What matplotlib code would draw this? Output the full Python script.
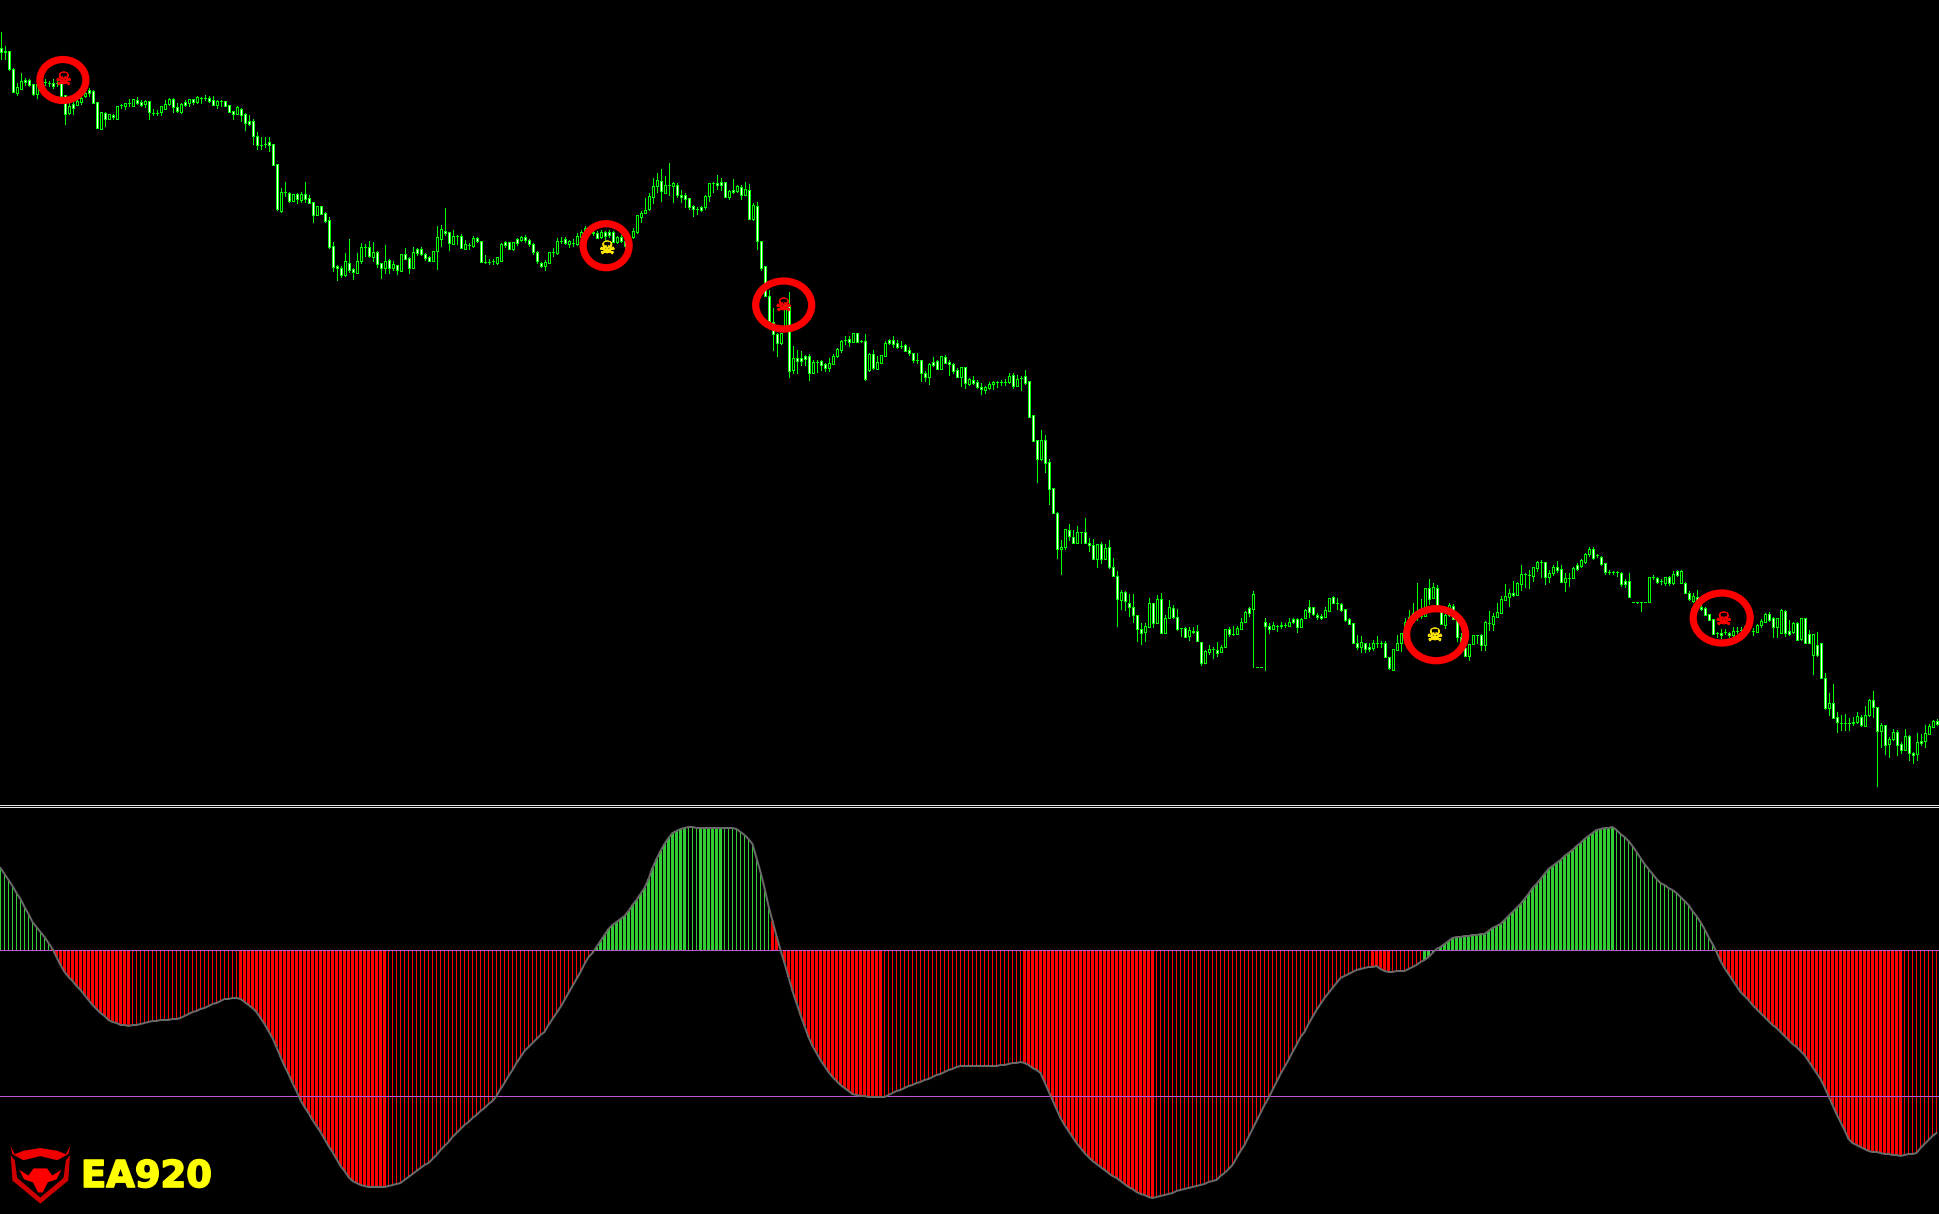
import matplotlib
matplotlib.use("Agg")
import matplotlib.pyplot as plt
from matplotlib.patches import Ellipse, Polygon
import matplotlib.patheffects as pe

opens = [752,749,749,731,707,711,720,720,716,706,
717,718,717,717,717,717,705,687,696,695,
698,704,710,709,698,671,687,681,685,681,
695,694,697,694,700,698,696,699,687,687,
688,691,696,701,693,688,698,697,701,698,
702,702,702,700,695,699,699,695,689,686,
691,686,679,679,664,655,656,658,656,636,
589,608,607,599,606,600,606,602,598,585,
594,587,580,554,534,532,525,537,531,527,
539,553,553,543,548,537,532,540,532,535,
529,546,542,532,551,551,546,543,539,549,
561,569,568,556,564,564,551,555,554,562,
559,538,538,539,537,539,558,558,551,561,
560,563,560,556,548,537,534,537,548,547,
559,561,556,557,556,563,568,570,568,567,
563,568,568,568,558,563,559,555,563,568,
583,587,591,603,614,619,607,615,614,615,
605,605,602,594,591,593,593,604,617,617,
618,618,603,610,609,613,605,610,581,594,
559,534,504,478,466,457,473,494,430,442,
442,444,444,427,438,439,436,432,436,444,
450,460,461,458,467,459,459,430,446,431,
437,444,460,460,457,454,455,450,447,440,
440,427,423,438,439,431,443,438,436,430,
423,433,416,420,418,413,410,412,416,418,
418,418,418,425,414,422,424,419,385,360,
341,360,338,312,287,251,253,270,263,257,
268,268,257,255,241,256,241,253,233,224,
200,208,197,193,185,171,168,173,197,177,
201,167,182,192,183,172,172,164,169,169,
158,137,148,151,150,148,153,171,166,166,
171,178,192,191,133,133,178,174,171,174,
175,175,174,181,181,173,182,193,193,185,
184,183,189,203,197,196,191,181,177,157,
153,157,153,152,157,157,157,143,130,150,
157,165,177,183,184,184,184,212,202,212,
188,175,185,194,180,163,152,144,156,165,
165,155,177,176,183,187,200,203,207,205,
216,226,225,224,232,238,238,223,227,233,
231,218,222,222,235,234,238,246,251,245,
243,237,228,228,228,227,219,219,198,198,
198,198,198,223,222,219,217,223,217,229,
217,217,207,199,203,193,192,186,181,167,
167,168,167,165,169,170,169,174,169,168,
175,178,186,182,173,167,189,169,168,177,
161,182,166,145,155,157,122,92,97,83,
77,77,77,78,78,83,74,85,100,93,
69,75,56,61,68,56,50,64,47,46,
59,59,66,73,79]

closes = [748,748,731,708,713,719,718,715,706,716,
718,718,717,714,717,704,686,694,692,699,
702,707,707,697,672,688,681,686,683,694,
695,697,697,701,697,695,699,688,687,687,
694,696,701,693,689,696,695,701,698,703,
702,702,699,695,699,699,694,688,686,693,
685,677,676,664,655,655,656,655,635,591,
608,608,599,606,601,606,601,597,585,594,
586,579,553,533,532,525,539,530,528,539,
553,553,544,548,536,532,539,532,536,530,
546,541,532,548,547,546,542,539,549,563,
571,567,557,564,564,552,556,555,562,559,
538,538,538,539,543,556,555,551,558,557,
563,560,556,548,539,534,538,548,548,559,
559,557,559,557,564,568,572,570,567,562,
568,564,565,558,563,559,554,563,569,585,
587,590,604,614,620,609,615,615,617,605,
603,601,593,591,591,590,604,617,617,615,
615,603,609,608,614,605,611,581,595,559,
532,504,479,466,457,467,495,429,442,439,
439,441,427,438,438,435,432,437,444,451,
459,460,458,467,458,459,421,446,432,438,
445,457,457,456,453,454,449,447,440,440,
427,423,436,435,431,444,437,436,429,423,
433,417,421,417,413,411,413,416,418,418,
418,418,424,414,421,422,417,383,359,341,
360,337,311,287,251,253,271,264,257,268,
268,257,255,241,256,241,252,233,224,201,
208,199,193,185,171,167,174,197,177,201,
167,182,193,183,171,172,163,170,168,159,
137,149,151,151,147,153,171,166,166,172,
178,188,187,206,133,133,174,171,175,174,
174,175,178,178,173,181,190,188,186,183,
182,190,202,197,197,190,180,176,157,153,
158,151,151,157,157,157,143,132,151,157,
167,178,183,187,187,184,212,201,213,195,
176,185,195,181,163,155,144,156,165,165,
155,178,177,184,188,201,204,207,205,217,
226,226,225,233,238,238,223,227,233,230,
218,222,222,232,231,240,246,251,242,245,
236,228,228,228,228,216,216,203,198,198,
198,198,223,223,218,219,223,217,226,225,
229,207,201,204,192,191,185,180,166,167,
165,168,165,169,169,170,174,174,169,175,
179,186,180,173,182,190,167,166,177,160,
182,157,157,166,145,122,92,97,82,78,
77,77,77,77,84,75,85,100,93,69,
75,55,61,68,55,50,64,47,45,58,
57,67,74,79,76]

highs = [768,754,749,732,717,727,722,721,716,717,
720,721,719,721,721,717,705,697,698,701,
704,712,712,710,698,688,688,686,686,694,
696,697,701,701,703,700,700,699,691,690,
694,700,702,702,697,697,700,701,701,704,
703,705,704,704,700,700,699,695,689,694,
692,687,685,681,668,663,663,663,656,636,
612,618,608,606,607,608,618,605,598,594,
594,588,583,558,535,534,547,561,532,547,
557,556,559,558,549,537,555,541,539,535,
546,552,543,553,552,553,547,544,549,574,
575,592,568,570,565,566,560,557,564,563,
559,545,541,541,543,557,559,558,558,562,
564,565,561,557,549,538,540,548,552,562,
563,563,560,561,567,570,574,572,570,569,
570,569,570,569,564,565,563,565,572,585,
589,602,607,622,627,631,624,637,618,617,
610,607,602,595,593,594,605,617,618,625,
622,618,610,621,615,615,618,616,597,598,
559,534,510,492,467,467,495,508,454,450,
449,445,446,440,440,440,437,442,446,452,
460,464,464,467,467,460,466,447,450,444,
445,459,461,464,460,459,456,453,447,447,
440,429,437,443,440,444,445,440,437,432,
433,433,422,424,420,417,414,418,419,419,
420,421,427,427,425,424,430,419,385,360,
370,365,341,312,288,260,271,276,270,274,
268,282,262,261,256,258,256,260,242,229,
210,209,206,206,185,177,177,202,197,205,
207,185,200,195,191,172,173,173,173,175,
158,150,155,153,158,155,171,173,174,174,
182,189,193,209,133,133,182,177,178,175,
178,177,182,182,182,182,191,200,193,187,
186,193,202,204,202,197,191,182,177,165,
164,157,157,160,164,159,159,143,151,165,
167,182,190,197,217,201,212,221,217,215,
190,186,197,196,180,167,155,156,165,165,
166,179,189,187,197,204,216,211,219,218,
235,227,230,233,239,240,238,230,235,239,
235,227,227,233,237,241,247,253,253,246,
244,237,230,229,229,228,221,227,198,198,
198,198,223,225,223,221,223,224,229,230,
230,218,209,207,210,195,193,186,181,168,
171,171,168,173,173,173,175,176,172,176,
181,187,188,183,182,191,190,180,178,178,
182,182,170,166,168,157,127,107,116,88,
85,86,82,83,88,85,94,101,109,93,
77,75,63,71,70,58,71,65,48,67,
66,75,76,80,81]

lows = [741,741,730,708,705,711,715,714,705,702,
716,715,714,712,714,703,676,686,686,695,
696,703,704,697,672,671,674,681,681,681,
692,691,694,694,696,694,693,681,685,685,
685,691,695,688,688,687,694,694,696,697,
697,700,698,695,692,694,694,688,681,686,
679,670,675,656,651,651,653,649,635,590,
588,604,598,599,597,598,598,597,578,585,
586,578,552,529,520,523,524,528,521,527,
537,544,543,539,533,522,527,527,530,526,
529,541,527,532,545,545,540,539,539,531,
554,565,550,556,556,552,551,551,553,558,
538,537,536,536,536,539,553,551,550,555,
559,558,554,546,537,533,530,537,544,546,
557,556,553,554,555,562,567,568,565,562,
562,560,563,558,557,558,552,553,562,567,
578,587,590,597,608,599,607,605,598,603,
598,593,591,584,586,589,591,599,608,611,
610,603,601,607,608,601,605,581,580,551,
530,504,478,450,444,456,472,423,427,427,
435,435,420,427,428,430,429,429,436,443,
448,456,454,458,458,458,420,429,431,431,
437,444,456,453,452,452,449,445,438,437,
419,419,416,434,431,431,437,425,427,423,
414,412,415,416,412,406,407,411,411,413,
415,415,417,412,414,410,416,383,359,318,
340,328,296,287,242,226,251,260,257,257,
257,257,249,241,233,237,241,232,224,174,
191,190,184,178,159,156,159,173,173,177,
167,167,182,182,170,164,163,160,167,159,
135,137,146,142,144,148,153,164,165,166,
171,178,184,133,133,133,130,167,171,169,
172,173,174,177,168,173,182,183,185,181,
181,183,189,197,191,189,179,176,157,151,
148,148,149,150,153,153,143,131,130,150,
149,162,175,183,180,182,184,196,202,195,
176,172,184,181,159,155,144,140,156,157,
150,150,170,170,183,187,200,194,204,205,
210,213,212,219,229,223,216,218,225,228,
218,209,214,222,230,233,237,244,241,243,
235,226,226,226,224,214,213,203,198,197,
189,198,198,221,217,216,215,215,216,224,
217,207,200,198,192,190,185,180,166,163,
162,166,163,164,167,168,168,172,165,168,
173,178,179,163,163,167,164,165,167,160,
160,157,157,126,144,122,91,85,82,68,
70,70,70,75,77,74,74,84,83,14,
53,46,43,60,45,47,50,40,37,40,
55,53,66,73,75]

oscillator = [82,76,70,64,57,51,43,36,28,23,
18,13,7,1,-7,-15,-22,-27,-31,-36,
-40,-45,-50,-55,-59,-63,-66,-70,-72,-73,
-75,-75,-76,-75,-75,-74,-73,-72,-71,-71,
-70,-70,-70,-69,-69,-68,-66,-64,-62,-61,
-59,-58,-56,-54,-53,-51,-49,-49,-48,-48,
-49,-52,-55,-58,-62,-68,-74,-81,-88,-97,
-107,-116,-124,-133,-141,-150,-157,-163,-170,-176,
-182,-189,-196,-202,-209,-216,-221,-227,-231,-233,
-235,-236,-237,-237,-237,-237,-237,-236,-235,-234,
-233,-230,-227,-224,-221,-218,-215,-213,-209,-205,
-200,-196,-192,-187,-183,-179,-175,-172,-168,-165,
-161,-158,-154,-151,-146,-139,-133,-126,-120,-113,
-107,-101,-97,-93,-89,-85,-82,-75,-69,-63,
-57,-50,-43,-36,-29,-22,-14,-7,-3,3,
9,15,21,25,28,31,34,39,45,50,
56,62,71,82,91,99,106,112,117,119,
121,122,123,123,122,122,122,122,122,122,
122,122,122,122,121,118,115,111,106,92,
78,62,44,29,14,0,-13,-27,-41,-53,
-65,-76,-87,-96,-103,-110,-116,-122,-127,-131,
-135,-138,-141,-144,-145,-146,-146,-147,-147,-147,
-147,-147,-145,-143,-141,-140,-138,-136,-135,-133,
-132,-130,-129,-127,-125,-124,-122,-120,-119,-117,
-116,-116,-116,-116,-116,-116,-116,-116,-116,-116,
-115,-115,-114,-113,-113,-112,-113,-115,-118,-120,
-123,-132,-141,-150,-159,-168,-175,-181,-187,-193,
-198,-203,-207,-211,-214,-217,-220,-223,-226,-228,
-231,-234,-237,-239,-242,-244,-245,-247,-248,-247,
-246,-245,-244,-243,-241,-240,-239,-238,-237,-236,
-235,-234,-232,-231,-230,-226,-223,-219,-215,-208,
-201,-195,-187,-179,-171,-163,-155,-148,-140,-132,
-124,-117,-110,-102,-95,-87,-82,-74,-67,-60,
-54,-48,-43,-38,-33,-28,-26,-24,-22,-20,
-19,-18,-17,-17,-16,-19,-21,-22,-22,-21,
-21,-21,-19,-17,-15,-12,-10,-7,-3,1,
3,6,9,12,13,13,14,14,15,15,
16,16,19,22,24,26,30,34,38,42,
46,51,56,62,66,71,76,81,84,87,
90,94,97,100,104,107,111,114,117,120,
121,122,122,123,120,116,113,109,104,98,
92,86,81,76,71,67,65,62,60,57,
53,49,45,39,34,28,21,13,6,-2,
-11,-18,-24,-30,-36,-42,-46,-50,-55,-59,
-63,-67,-71,-75,-78,-82,-86,-90,-94,-97,
-101,-105,-111,-117,-123,-129,-137,-146,-155,-164,
-172,-180,-189,-193,-195,-197,-199,-201,-202,-202,
-203,-204,-204,-205,-205,-206,-205,-204,-204,-203,
-198,-194,-190,-186,-183]

green_runs = [(0, 12), (149, 192), (356, 428)]
wide_runs = [(13, 32), (60, 96), (149, 171), (175, 180), (193, 220), (256, 288),
             (343, 347), (356, 357), (360, 403), (429, 475)]
levels = [0, -146]

ring_bar = [15.6, 151.4, 195.8, 358.9, 430.3]
ring_price = [720, 554.3, 495, 165.3, 182]
ring_w = [11.5, 11.5, 14, 14.75, 14.25]
ring_h = [41, 44, 48, 52, 50]

skull_bar = [15.8, 151.7, 195.8, 358.6, 430.8]
skull_price = [720, 551, 494, 164, 180]
skull_color = ["#FF0000", "#FFE600", "#FF0000", "#FFE600", "#FF0000"]

n = len(closes)
assert n == 485 and len(opens) == n and len(highs) == n and len(lows) == n and len(oscillator) == n
idx = list(range(n))

W, H = 1939, 1214
fig = plt.figure(figsize=(W / 100, H / 100), dpi=100, facecolor="black")
ax1 = fig.add_axes([0, 1 - 805 / H, 1, 805 / H], facecolor="black")
ax2 = fig.add_axes([0, 0, 1, (H - 807) / H], facecolor="black")
for ax in (ax1, ax2):
    ax.set_xlim(-0.125, 484.625)
    ax.set_xticks([])
    ax.set_yticks([])
    for s in ax.spines.values():
        s.set_visible(False)
ax1.set_ylim(-5, 800)
ax2.set_ylim(-264, 143)
for ax, side in ((ax1, "bottom"), (ax2, "top")):
    ax.spines[side].set_visible(True)
    ax.spines[side].set_color("#E8E8E8")
    ax.spines[side].set_linewidth(0.72)

# candles
GREEN = "#00FF00"
ax1.vlines(idx, lows, highs, colors=GREEN, linewidth=0.72, antialiased=False, zorder=1)
for i in idx:
    top = max(opens[i], closes[i])
    bot = min(opens[i], closes[i])
    face = "white" if closes[i] < opens[i] else "black"
    ax1.bar(i, top - bot, bottom=bot, width=0.5, facecolor=face, edgecolor=GREEN,
            linewidth=0.72, antialiased=False, zorder=2)

# rings and skulls
for b, p, w, h in zip(ring_bar, ring_price, ring_w, ring_h):
    ax1.add_patch(Ellipse((b, p), w, h, fill=False, edgecolor="#FF0000", linewidth=5.2, zorder=4))
for b, p, c in zip(skull_bar, skull_price, skull_color):
    ax1.text(b, p, "\u2620", color=c, fontsize=13, ha="center", va="center",
             family="DejaVu Sans", zorder=5,
             path_effects=[pe.withStroke(linewidth=0.5, foreground=c)])

# oscillator histogram
def in_runs(i, runs):
    return any(a <= i <= b for a, b in runs)

for i in idx:
    wide = in_runs(i, wide_runs)
    col = "#32CD32" if in_runs(i, green_runs) else "#FF0000"
    ax2.bar(i, oscillator[i], width=0.75 if wide else 0.25, color=col, linewidth=0,
            antialiased=False, zorder=1)
ax2.plot(idx, oscillator, color="#696969", linewidth=1.44, zorder=3)
for lv in levels:
    ax2.axhline(lv, color="#BA55D3", linewidth=0.72, antialiased=False, zorder=2)

# logo
lax = fig.add_axes([9 / W, 1 - 1205 / H, 62 / W, 60 / H], facecolor="none")
lax.set_xlim(28, 210)
lax.set_ylim(372, 195)
lax.axis("off")
lax.add_patch(Polygon([(33, 225), (38, 300), (120, 368), (202, 300), (207, 225), (195, 240), (188, 292),
                       (120, 350), (52, 292), (45, 240)], closed=True, facecolor="#D00000", edgecolor="none"))
lax.add_patch(Polygon([(32, 197), (38, 222), (70, 240), (120, 228), (170, 240), (202, 222), (208, 197),
                       (195, 222), (170, 212), (120, 204), (70, 212), (45, 222)], closed=True,
                      facecolor="#F00000", edgecolor="none"))
lax.add_patch(Polygon([(58, 268), (85, 285), (100, 264), (140, 264), (155, 285), (182, 268), (168, 296),
                       (142, 305), (127, 335), (113, 335), (98, 305), (72, 296)], closed=True,
                      facecolor="#FF0000", edgecolor="none"))

fig.text(81 / W, 1 - 1187 / H, "EA920", color="#FFFF00", fontsize=26.6, fontweight="bold",
         family="DejaVu Sans", va="baseline", ha="left",
         path_effects=[pe.withStroke(linewidth=1.2, foreground="#FFFF00")])

fig.savefig("out.png", dpi=100, facecolor="black")
